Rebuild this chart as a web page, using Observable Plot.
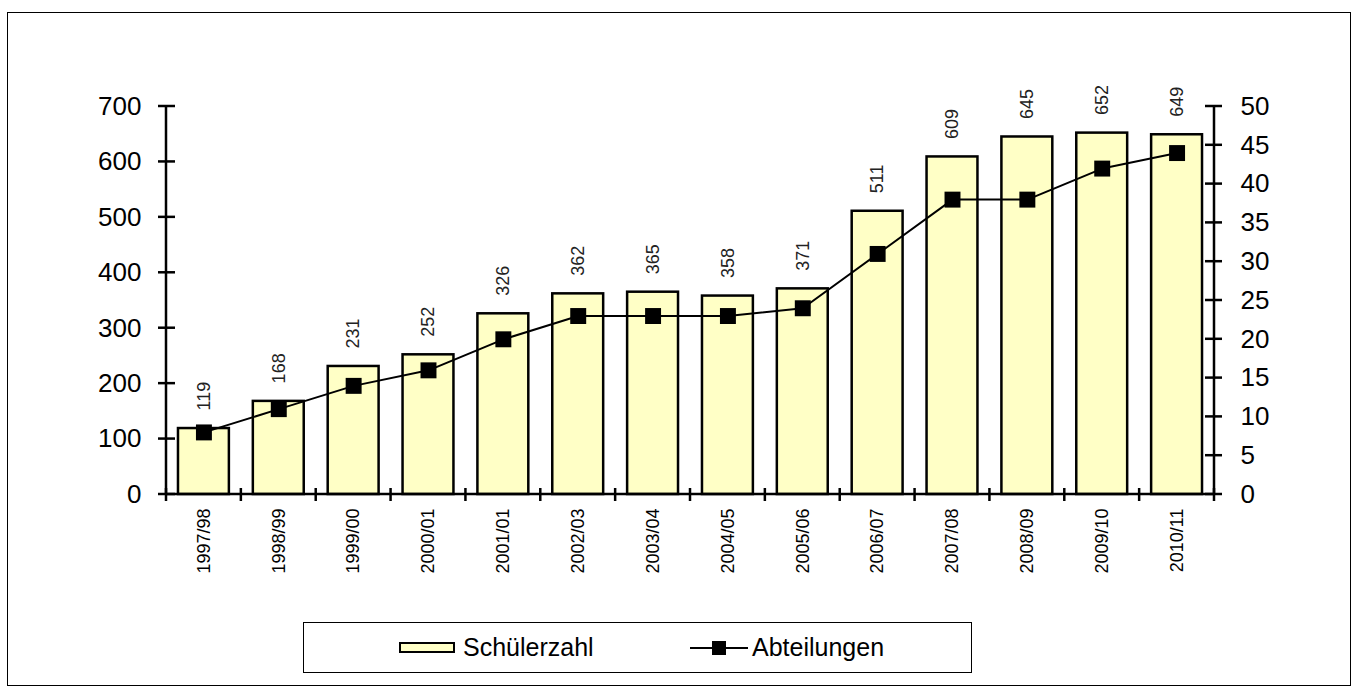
<!DOCTYPE html>
<html><head><meta charset="utf-8">
<script src="https://cdn.jsdelivr.net/npm/d3@7"></script>
<script src="https://cdn.jsdelivr.net/npm/@observablehq/plot@0.6"></script>
<style>
body{margin:0;background:#fff;font-family:"Liberation Sans",Arial,sans-serif;}
#wrap{position:relative;width:1358px;height:693px;overflow:hidden;}
#frame{position:absolute;left:7px;top:12px;width:1344px;height:674px;border:1px solid #000;box-sizing:border-box;pointer-events:none;}
#legend{position:absolute;left:303px;top:622px;width:669px;height:51px;border:1.5px solid #000;box-sizing:border-box;background:#fff;}
#legend .it{position:absolute;font-size:25px;line-height:25px;top:12px;color:#000;white-space:nowrap;}
#legend .sw{position:absolute;left:95px;top:19px;width:56px;height:11px;background:#FFFFC6;border:2px solid #000;box-sizing:border-box;}
#legend .ln{position:absolute;left:386px;top:24px;width:58px;height:2px;background:#000;}
#legend .sq{position:absolute;left:408px;top:18px;width:14px;height:14px;background:#000;}
</style>
</head><body>
<div id="wrap">
  <div id="chart"></div>
  <div id="frame"></div>
  <div id="legend">
    <div class="sw"></div><div class="it" style="left:159px">Schülerzahl</div>
    <div class="ln"></div><div class="sq"></div><div class="it" style="left:448px">Abteilungen</div>
  </div>
</div>
<script>
const seasons = ["1997/98","1998/99","1999/00","2000/01","2001/01","2002/03","2003/04","2004/05","2005/06","2006/07","2007/08","2008/09","2009/10","2010/11"];
const schueler = [119,168,231,252,326,362,365,358,371,511,609,645,652,649];
const abteilungen = [8,11,14,16,20,23,23,23,24,31,38,38,42,44];
const leftTicks = [0,100,200,300,400,500,600,700];
const rightTicks = [0,5,10,15,20,25,30,35,40,45,50];
const ratio = 700 / 50;

const data = seasons.map((s, i) => ({season: s, schueler: schueler[i], abt: abteilungen[i]}));

function axisLines(index, scales, values, dims) {
  const y = scales.y;
  const L = dims.marginLeft, R = dims.width - dims.marginRight;
  const y0 = y(0), yTop = y(700);
  const g = d3.create("svg:g").attr("stroke", "#000").attr("stroke-width", 2.5).attr("fill", "none");
  const line = (x1, y1, x2, y2) => g.append("line").attr("x1", x1).attr("y1", y1).attr("x2", x2).attr("y2", y2);
  line(L, yTop - 1, L, y0);
  line(R, yTop - 1, R, y0);
  line(L, y0, R, y0);
  for (const t of leftTicks) line(L - 8, y(t), L + 9, y(t));
  for (const t of rightTicks) line(R - 9, y(t * ratio), R + 8, y(t * ratio));
  const step = (R - L) / seasons.length;
  for (let i = 0; i <= seasons.length; i++) line(L + i * step, y0 - 6, L + i * step, y0 + 7);
  return g.node();
}

const chart = Plot.plot({
  width: 1358, height: 693,
  marginLeft: 166, marginRight: 144, marginTop: 106, marginBottom: 199,
  style: {fontFamily: '"Liberation Sans", Arial, sans-serif', background: "transparent", color: "#000"},
  x: {domain: seasons, paddingInner: 0.32, paddingOuter: 0.16, round: false, axis: null},
  y: {domain: [0, 700], axis: null},
  marks: [
    Plot.barY(data, {x: "season", y: "schueler", fill: "#FFFFC6", stroke: "#000", strokeWidth: 2.5}),
    Plot.line(data, {x: "season", y: d => d.abt * ratio, stroke: "#000", strokeWidth: 2}),
    Plot.dot(data, {x: "season", y: d => d.abt * ratio, symbol: "square", r: 9, fill: "#000", stroke: "none"}),
    Plot.text(data, {x: "season", y: "schueler", text: d => String(d.schueler), rotate: -90, textAnchor: "start", dy: -18, fontSize: 18, fill: "#222"}),
    axisLines,
    Plot.axisY({anchor: "left", ticks: leftTicks, tickSize: 0, tickPadding: 25, fontSize: 26, label: null, tickFormat: d => String(d)}),
    Plot.axisY({anchor: "right", ticks: rightTicks.map(v => v * ratio), tickSize: 0, tickPadding: 26, fontSize: 26, label: null, tickFormat: d => String(Math.round(d / ratio))}),
    Plot.axisX({anchor: "bottom", tickSize: 0, tickPadding: 14, tickRotate: -90, fontSize: 18, label: null})
  ]
});
document.getElementById("chart").appendChild(chart);
</script>
</body></html>
